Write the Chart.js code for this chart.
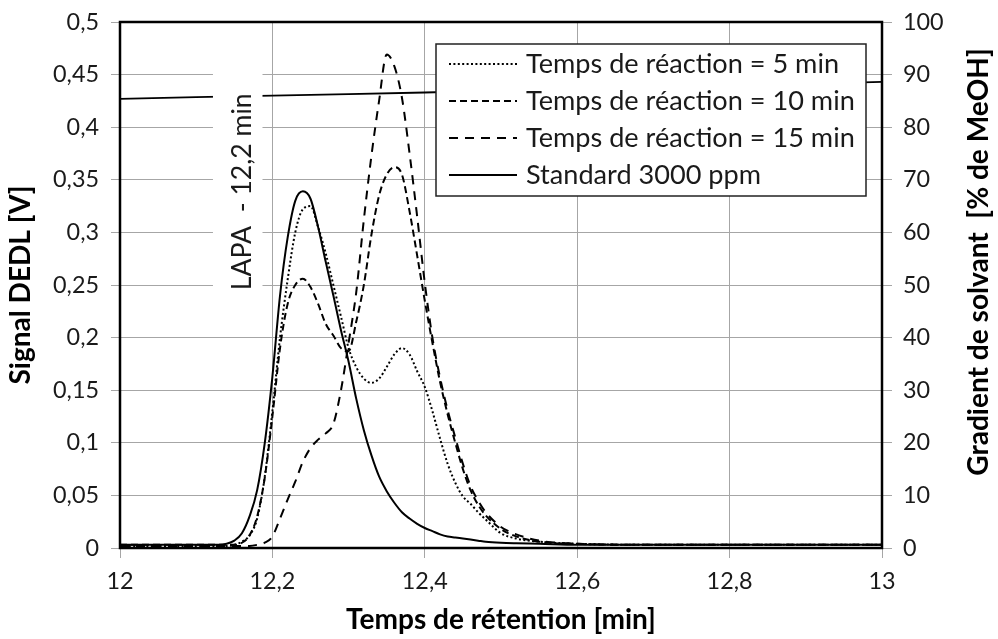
<!DOCTYPE html>
<html><head><meta charset="utf-8">
<script src="https://cdn.jsdelivr.net/npm/chart.js@4.4.1/dist/chart.umd.min.js"></script>
<style>html,body{margin:0;padding:0;background:#fff;}#wrap{width:998px;height:639px;}</style>
</head><body><div id="wrap"><canvas id="c" width="998" height="639"></canvas></div>
<script>
// ---- data ----
const times = [12.00,12.05,12.10,12.13,12.14,12.15,12.16,12.17,12.18,12.19,12.20,12.21,12.22,12.23,12.24,12.25,12.26,12.27,12.28,12.29,12.30,12.31,12.32,12.33,12.34,12.35,12.36,12.37,12.38,12.39,12.40,12.41,12.42,12.43,12.44,12.45,12.46,12.47,12.48,12.50,12.52,12.55,12.60,12.70,12.80,12.90,13.00];
const reaction5 = [0.002,0.002,0.002,0.002,0.002,0.003,0.006,0.012,0.028,0.068,0.130,0.200,0.255,0.300,0.322,0.325,0.305,0.280,0.250,0.220,0.190,0.172,0.161,0.157,0.161,0.172,0.184,0.190,0.184,0.168,0.153,0.130,0.104,0.080,0.062,0.049,0.042,0.034,0.027,0.014,0.009,0.006,0.004,0.003,0.003,0.003,0.003];
const reaction10 = [0.003,0.003,0.003,0.003,0.003,0.003,0.005,0.012,0.030,0.067,0.125,0.190,0.232,0.250,0.256,0.248,0.232,0.213,0.202,0.190,0.187,0.215,0.250,0.298,0.335,0.355,0.362,0.355,0.320,0.278,0.235,0.195,0.158,0.127,0.100,0.075,0.055,0.041,0.031,0.018,0.011,0.006,0.004,0.003,0.003,0.003,0.003];
const reaction15 = [0.002,0.002,0.002,0.002,0.002,0.002,0.002,0.002,0.003,0.005,0.011,0.028,0.046,0.063,0.082,0.095,0.103,0.109,0.118,0.150,0.195,0.243,0.312,0.373,0.425,0.469,0.458,0.428,0.375,0.315,0.252,0.200,0.162,0.131,0.105,0.080,0.059,0.045,0.034,0.020,0.013,0.007,0.004,0.003,0.003,0.003,0.003];
const standard = [0.003,0.003,0.003,0.003,0.004,0.007,0.014,0.030,0.055,0.100,0.163,0.240,0.295,0.330,0.339,0.332,0.305,0.272,0.240,0.207,0.177,0.142,0.112,0.088,0.068,0.054,0.043,0.034,0.028,0.023,0.019,0.016,0.013,0.011,0.010,0.009,0.008,0.007,0.006,0.005,0.0045,0.004,0.003,0.003,0.003,0.003,0.003];
const gradientTimes = [12.0,12.2,12.4,12.6,12.8,13.0];
const gradient = [85.4,86.0,86.6,87.3,87.9,88.6];
const seriesLabels = ['Temps de réaction = 5 min','Temps de réaction = 10 min','Temps de réaction = 15 min','Standard 3000 ppm'];
const xTitle = 'Temps de rétention [min]';
const yTitle = 'Signal DEDL [V]';
const y2Title = 'Gradient de solvant  [% de MeOH]';
const lapaLabel = 'LAPA  - 12,2 min';
const lapaTime = 12.161;

// ---- styling ----
const FONT = 'Lato, "Open Sans", sans-serif';
const mctx = document.createElement('canvas').getContext('2d');
function fitSize(text, weight, target){ mctx.font = weight + ' 100px ' + FONT; return 100*target/mctx.measureText(text).width; }
const tickSize = fitSize('0,45','normal',46);
const legendSize = fitSize(seriesLabels[1],'normal',329);
const titleSize = fitSize(xTitle,'bold',310);
const lapaSize = fitSize(lapaLabel,'normal',197);
const styles = [
  {dash:[2,2.4], width:2},
  {dash:[7,4], width:2},
  {dash:[9,7], width:2},
  {dash:[], width:2}
];
const fmt = (v, d) => String(Math.round(v*Math.pow(10,d))/Math.pow(10,d)).replace('.', ',');
const series = [reaction5, reaction10, reaction15, standard];

const datasets = series.map((s,i)=>({
  label: seriesLabels[i],
  data: times.map((t,k)=>({x:t, y:s[k]})),
  borderColor:'#000', borderWidth: styles[i].width, borderDash: styles[i].dash,
  pointRadius:0, cubicInterpolationMode:'monotone', fill:false, yAxisID:'y'
}));
datasets.push({
  label:'Gradient', data: gradientTimes.map((t,k)=>({x:t,y:gradient[k]})),
  borderColor:'#000', borderWidth:1.8, pointRadius:0, tension:0.3, fill:false, yAxisID:'y2'
});

const deco = {
  id:'deco',
  afterDatasetsDraw(chart){
    const {ctx, chartArea:a, scales} = chart;
    const xs = scales.x, ys = scales.y;
    const bx0 = xs.getPixelForValue(12.122), bx1 = xs.getPixelForValue(12.187);
    const by0 = ys.getPixelForValue(0.47), by1 = ys.getPixelForValue(0.245);
    ctx.save();
    ctx.fillStyle = '#fff';
    ctx.fillRect(bx0, by0, bx1-bx0, by1-by0);
    ctx.translate(xs.getPixelForValue(lapaTime), by1);
    ctx.rotate(-Math.PI/2);
    ctx.fillStyle = '#1a1a1a';
    ctx.font = 'normal ' + lapaSize + 'px ' + FONT;
    ctx.textAlign = 'left'; ctx.textBaseline = 'middle';
    ctx.fillText(lapaLabel, 0, 0);
    ctx.restore();
    ctx.save();
    ctx.strokeStyle = '#000'; ctx.lineWidth = 2.5;
    ctx.strokeRect(a.left, a.top, a.right-a.left, a.bottom-a.top);
    ctx.restore();
    const lx0 = 436, ly0 = 44, lx1 = 866, ly1 = 196;
    ctx.save();
    ctx.fillStyle = '#fff'; ctx.fillRect(lx0, ly0, lx1-lx0, ly1-ly0);
    ctx.strokeStyle = '#222'; ctx.lineWidth = 1.5; ctx.strokeRect(lx0, ly0, lx1-lx0, ly1-ly0);
    const rows = [64, 101, 138, 175];
    ctx.font = 'normal ' + legendSize + 'px ' + FONT;
    ctx.textBaseline = 'middle'; ctx.textAlign = 'left';
    seriesLabels.forEach((lab,i)=>{
      ctx.beginPath();
      ctx.setLineDash(styles[i].dash); ctx.lineWidth = styles[i].width; ctx.strokeStyle = '#000';
      ctx.moveTo(449, rows[i]); ctx.lineTo(517, rows[i]); ctx.stroke();
      ctx.setLineDash([]);
      ctx.fillStyle = '#1a1a1a';
      ctx.fillText(lab, 526, rows[i]);
    });
    ctx.restore();
  },
  afterDraw(chart){
    const {ctx, chartArea:a} = chart;
    ctx.save();
    ctx.fillStyle = '#000';
    ctx.font = 'bold ' + titleSize + 'px ' + FONT;
    ctx.textAlign = 'center'; ctx.textBaseline = 'middle';
    ctx.fillText(xTitle, (a.left+a.right)/2, 620);
    ctx.save(); ctx.translate(21, 285); ctx.rotate(-Math.PI/2); ctx.fillText(yTitle, 0, 0); ctx.restore();
    ctx.save(); ctx.translate(979, 262); ctx.rotate(-Math.PI/2); ctx.fillText(y2Title, 0, 0); ctx.restore();
    ctx.restore();
  }
};

const tickFont = {family: FONT, size: tickSize};
const fitV = w => s => { s.width = w; s.paddingTop = 0; s.paddingBottom = 0; };
new Chart(document.getElementById('c'), {
  type:'line',
  data:{datasets},
  plugins:[deco],
  options:{
    responsive:false, animation:false, devicePixelRatio:1,
    layout:{padding:{top:22, left:0, right:0, bottom:0}},
    plugins:{legend:{display:false}, tooltip:{enabled:false}},
    scales:{
      x:{type:'linear', min:12, max:13,
        ticks:{stepSize:0.2, autoSkip:false, maxRotation:0, callback:v=>fmt(v,1), font:tickFont, color:'#1a1a1a', padding:9},
        grid:{color:'#a6a6a6', lineWidth:1, tickLength:10}, border:{display:false},
        afterFit:s=>{s.height=91; s.paddingLeft=0; s.paddingRight=0;}},
      y:{type:'linear', position:'left', min:0, max:0.5,
        ticks:{stepSize:0.05, callback:v=>fmt(v,2), font:tickFont, color:'#1a1a1a', padding:12},
        grid:{color:'#a6a6a6', lineWidth:1, tickLength:9}, border:{display:false},
        afterFit:fitV(120)},
      y2:{type:'linear', position:'right', min:0, max:100,
        ticks:{stepSize:10, callback:v=>fmt(v,0), font:tickFont, color:'#1a1a1a', padding:11},
        grid:{drawOnChartArea:false, color:'#a6a6a6', lineWidth:1, tickLength:10}, border:{display:false},
        afterFit:fitV(116)}
    }
  }
});
</script></body></html>
